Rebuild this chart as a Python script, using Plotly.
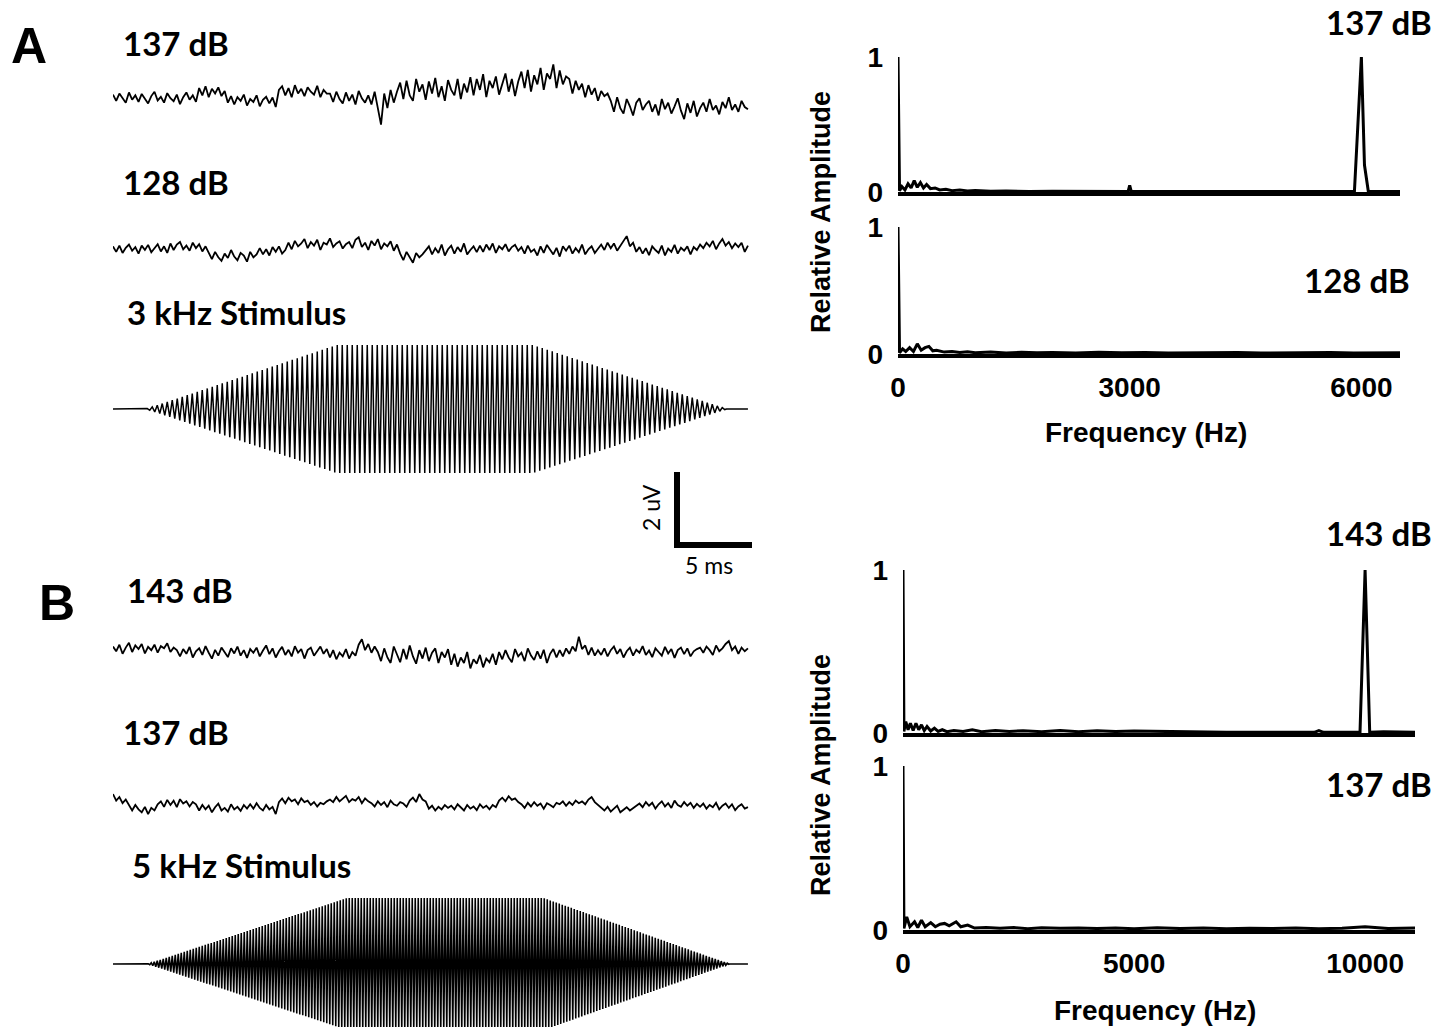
import numpy as np
import plotly.graph_objects as go

W, H = 1449, 1027

# ------------------------------------------------------------------ data
T_END_MS = 42.33          # duration of the displayed recordings (ms)

A137_UV = [0.12, -0.05, 0.15, 0.02, -0.10, 0.18, -0.02, 0.10, -0.08, 0.14, 0.00, -0.12, 0.08, 0.20, -0.04,
           0.06, -0.10, 0.16, 0.02, -0.06, 0.12, -0.14, 0.05, 0.18, -0.02, 0.10, -0.08,
           0.30, 0.10, 0.35, 0.05, 0.28, 0.15, 0.32, 0.08, 0.22,
           -0.10, 0.08, -0.15, 0.05, -0.05, 0.12, -0.18, 0.00, -0.08, 0.10, -0.20, -0.02, 0.06, -0.12, 0.04, -0.22,
           0.25, 0.35, 0.10, 0.30, 0.05, 0.38, 0.15, 0.28, 0.08, 0.32, 0.20, 0.12, 0.36, 0.05, 0.25, 0.15,
           0.15, -0.08, 0.20, 0.00, -0.12, 0.18, -0.05, 0.12, -0.15, 0.22, 0.02, -0.10, 0.10,
           -0.15, 0.20, -0.30, -0.70, 0.15, -0.25, 0.25, -0.10, 0.20,
           0.45, 0.00, 0.50, 0.10, -0.05, 0.55, 0.20, 0.40, -0.02, 0.48, 0.15, 0.58, 0.05, 0.35, -0.05,
           0.52, 0.25, 0.10, 0.55, 0.00, 0.42, 0.18,
           0.60, 0.10, 0.55, 0.25, 0.68, 0.05, 0.50, 0.30, 0.62, 0.12, 0.45, 0.70, 0.20, 0.55, 0.08, 0.48,
           0.75, 0.30, 0.80, 0.20, 0.65, 0.40, 0.85, 0.25, 0.70, 0.55, 0.95, 0.30, 0.78, 0.40, 0.62,
           0.55, 0.15, 0.50, 0.25, 0.42, 0.05, 0.38, 0.12, 0.30, -0.05, 0.22, 0.08, 0.15,
           -0.05, -0.35, 0.05, -0.25, -0.40, 0.00, -0.20, -0.45, -0.10, 0.02, -0.30, -0.15,
           -0.05, -0.35, -0.15, -0.45, 0.00, -0.28, -0.10, -0.40, -0.20, 0.02, -0.32, -0.55, -0.12, -0.38, -0.05,
           -0.48, -0.25, -0.10, -0.35, 0.00, -0.30, -0.18, -0.42, -0.08, -0.25, 0.05, -0.30, -0.15, -0.35, -0.05,
           -0.22, -0.28]

A128_UV = [0.10, -0.05, 0.12, -0.08, 0.06, 0.15, -0.02, 0.08, -0.10, 0.12, 0.00, 0.14, -0.06, 0.05, 0.16, -0.04, 0.10, -0.08,
           0.18, 0.00, 0.15, 0.22, 0.02, 0.12, -0.02, 0.20, 0.05, 0.16, -0.04, 0.10,
           -0.08, -0.25, -0.05, -0.20, -0.30, -0.10, -0.22, 0.00, -0.18, -0.28, -0.08, -0.15, -0.32, -0.05, -0.20, -0.12,
           0.05, -0.12, 0.02, -0.15, 0.08, -0.05, 0.10, -0.10, 0.00,
           0.20, 0.02, 0.25, 0.10, 0.18, 0.30, 0.05, 0.22, 0.12, 0.28, 0.00, 0.20, 0.15, 0.32, 0.08, 0.18, 0.24, 0.04, 0.16,
           0.22, 0.05, 0.28, 0.35, 0.08, 0.20, 0.00, 0.25, 0.12, 0.30, 0.02, 0.18, 0.10, 0.24, -0.02, 0.15,
           -0.10, -0.28, -0.05, -0.22, -0.35, -0.08, -0.20, -0.12, -0.02,
           0.10, -0.12, 0.05, -0.08, 0.15, -0.15, 0.02, 0.12, -0.10, 0.08, -0.05, 0.18, -0.12, 0.00, 0.10, -0.06,
           0.12, -0.05, 0.15, 0.00, 0.18, -0.08, 0.10, 0.02, 0.16, -0.04, 0.08, 0.14, -0.02,
           0.08, -0.10, 0.12, -0.05, 0.02, -0.15, 0.10, -0.08, 0.14, 0.00, -0.12, 0.06, -0.18, 0.10, -0.02,
           0.12, -0.10, 0.05, -0.06, 0.15, -0.12, 0.02, 0.10, -0.08, 0.04,
           0.15, 0.00, 0.20, 0.05, 0.18, -0.02, 0.12, 0.25, 0.38, 0.10, 0.20, -0.05,
           0.08, -0.10, 0.05, -0.14, 0.10, 0.00, -0.08, 0.12, -0.15, 0.04, -0.05, 0.14, -0.10, 0.06, -0.02, 0.10, -0.12, 0.08, 0.00,
           0.15, 0.05, 0.20, 0.10, 0.25, 0.02, 0.18, 0.30, 0.12, 0.22, 0.05, 0.18, 0.08, 0.20, -0.05, 0.12]

B143_UV = [0.15, 0.02, 0.20, -0.05, 0.12, 0.25, 0.00, 0.18, 0.08, 0.22, -0.04, 0.14, 0.05, 0.20, -0.02, 0.16, 0.10, 0.24, 0.00, 0.12, 0.05,
           -0.12, 0.08, -0.05, 0.14, -0.15, 0.02, 0.10, -0.08, 0.16, -0.02,
           -0.18, 0.06, -0.10, 0.12, 0.00, -0.14, 0.10, -0.04, 0.15, -0.10,
           0.05, -0.16, 0.08, -0.02, 0.12, -0.12, 0.04, 0.18, -0.06, 0.10,
           -0.15, 0.02, 0.14, -0.08, 0.06, -0.12, 0.16, -0.02, 0.08, -0.18,
           0.05, 0.12, -0.10, 0.02, 0.15, -0.05, 0.08,
           -0.15, 0.05, -0.20, -0.02, -0.12, 0.08, -0.18, 0.00, -0.10,
           0.20, 0.35, 0.05, 0.22, -0.02, 0.15, 0.00,
           -0.25, 0.10, -0.15, -0.30, 0.15, -0.05, -0.28, 0.08, -0.20, 0.18, -0.12, -0.32, 0.05, -0.18, 0.12,
           -0.25, -0.02, 0.10, -0.30, 0.00, -0.15, 0.08,
           -0.35, -0.05, -0.40, -0.15, -0.30, 0.00, -0.45, -0.20, -0.32, -0.08, -0.42, -0.18, -0.28, -0.05, -0.35,
           0.00, -0.20, 0.05, -0.15, -0.28, 0.08, -0.12, -0.02, -0.25, 0.10, -0.10, -0.22, 0.02, -0.18, 0.06,
           -0.30, -0.05, 0.08, -0.15,
           0.05, -0.12, 0.10, -0.05, 0.15, 0.02, 0.42, 0.08, 0.18, -0.08, 0.12, -0.10, 0.05,
           -0.08, 0.10, -0.12, 0.05, 0.15, -0.05, 0.08, -0.15, 0.02, 0.12, -0.10, 0.06, -0.02, 0.16, -0.08,
           0.04, -0.14, 0.10, 0.00, -0.10, 0.14, -0.04, 0.08, -0.16, 0.05, 0.12, -0.06, 0.10, -0.12, 0.02, 0.08,
           0.12, -0.02, 0.15, 0.05, -0.08, 0.18, 0.02, 0.10, 0.22, 0.30, 0.05, 0.15, -0.05, 0.12, 0.02, 0.10]

B137_UV = [0.30, 0.12, 0.22, 0.05, 0.15,
           -0.02, -0.15, 0.00, -0.12, -0.20, -0.05, -0.25, -0.08, -0.15, 0.02,
           0.10, -0.05, 0.14, 0.00, 0.12, -0.06, 0.16, 0.04, 0.10, -0.04, 0.08, 0.02,
           -0.15, 0.00, -0.12, -0.02, -0.20, -0.06, 0.04, -0.15, -0.08, -0.18, 0.02, -0.12, -0.05, -0.16, 0.00, -0.10,
           0.02, -0.10, 0.05, -0.08, -0.15, 0.00, -0.12, -0.05, -0.25,
           0.08, 0.18, 0.05, 0.20, 0.10, 0.15, 0.02, 0.18, 0.08, 0.12,
           0.00, 0.08, -0.04, 0.06, 0.02, 0.10,
           0.15, 0.08, 0.22, 0.10, 0.18, 0.25, 0.08, 0.16, 0.12, 0.22, 0.05, 0.18, 0.10,
           0.05, -0.04, 0.10, 0.00, 0.08, -0.06, 0.12, 0.02, -0.02, 0.08, 0.04, -0.05,
           0.12, 0.20, 0.08, 0.30, 0.15, 0.10,
           -0.10, -0.02, -0.15, -0.05, -0.12, 0.00, -0.08,
           -0.02, -0.12, 0.02, -0.08, -0.15, 0.00, -0.10, -0.04, -0.14, 0.02, -0.08, -0.02, -0.12, 0.00, -0.06,
           0.12, 0.20, 0.10, 0.24, 0.14, 0.18, 0.08,
           0.02, -0.08, 0.06, -0.04, 0.08, -0.02, 0.04, -0.10, 0.05, 0.00, -0.06, 0.06,
           0.02, 0.10, -0.02, 0.08, 0.00, 0.12, 0.05, 0.10, 0.02, 0.15, 0.22, 0.08, 0.00,
           -0.08, -0.15, -0.05, -0.18, -0.10, -0.02, -0.20, -0.12, -0.06, -0.15, -0.08, -0.02,
           0.04, -0.06, 0.08, -0.02, 0.06, -0.10, 0.02, 0.10, -0.04, 0.05, -0.08, 0.12, 0.00, -0.05, 0.08, -0.02, 0.06, -0.08, 0.03,
           -0.05, 0.04, -0.10, 0.00, -0.06, 0.06, -0.12, -0.02, 0.04, -0.08, 0.02, -0.14, -0.04, 0.02, -0.10, -0.06]

# stimulus tones: carrier frequency and trapezoid envelope corners (ms)
STIM_A_KHZ = 3
STIM_A_ENV_MS = [2.2, 14.9, 28.0, 40.9]
STIM_B_KHZ = 5
STIM_B_ENV_MS = [2.3, 15.6, 28.7, 41.1]
STIM_ENV_LEVEL = [0, 1, 1, 0]

SCALE_BAR_MS = 5
SCALE_BAR_UV = 2

# spectra (relative amplitude vs frequency in Hz)
FREQ_A137 = [0, 20, 50, 90, 130, 170, 210, 250, 290, 330, 370, 420, 480, 540, 620, 700, 800, 900, 1000, 1200,
             1400, 1700, 2000, 2500, 2980, 3000, 3020, 3500, 4000, 4500, 5000, 5500, 5910, 6000, 6040, 6090, 6300, 6500]
AMP_A137 = [1.0, 0.01, 0.04, 0.015, 0.06, 0.03, 0.085, 0.035, 0.07, 0.03, 0.055, 0.025, 0.03, 0.015, 0.02, 0.01, 0.015, 0.008, 0.012, 0.006,
            0.008, 0.004, 0.006, 0.004, 0.004, 0.05, 0.004, 0.003, 0.004, 0.003, 0.004, 0.003, 0.005, 1.0, 0.2, 0.003, 0.003, 0.003]

FREQ_A128 = [0, 20, 60, 100, 150, 200, 250, 300, 350, 400, 450, 500, 600, 700, 800, 900, 1000, 1200, 1400, 1600,
             1800, 2000, 2300, 2600, 2900, 3200, 3500, 3800, 4100, 4400, 4700, 5000, 5300, 5600, 5900, 6200, 6500]
AMP_A128 = [1.0, 0.01, 0.04, 0.02, 0.05, 0.02, 0.08, 0.03, 0.05, 0.06, 0.025, 0.03, 0.015, 0.02, 0.012, 0.018, 0.01, 0.015, 0.008, 0.014,
            0.01, 0.012, 0.008, 0.013, 0.009, 0.012, 0.008, 0.011, 0.009, 0.012, 0.008, 0.011, 0.009, 0.012, 0.008, 0.011, 0.01]

FREQ_B143 = [0, 20, 60, 110, 160, 220, 280, 340, 400, 460, 520, 600, 680, 760, 850, 950, 1100, 1300, 1500, 1700,
             2000, 2300, 2600, 3000, 3400, 3800, 4200, 4600, 5000, 5500, 6000, 6500, 7000, 8000, 8900, 9000, 9100,
             9890, 10000, 10100, 10400, 11080]
AMP_B143 = [1.0, 0.01, 0.07, 0.02, 0.06, 0.015, 0.06, 0.02, 0.05, 0.015, 0.04, 0.012, 0.03, 0.01, 0.02, 0.008, 0.015, 0.01, 0.02, 0.008,
            0.015, 0.01, 0.014, 0.008, 0.015, 0.008, 0.014, 0.009, 0.012, 0.01, 0.008, 0.004, 0.004, 0.004, 0.004, 0.015, 0.004,
            0.004, 1.0, 0.004, 0.008, 0.004]

FREQ_B137 = [0, 20, 80, 150, 250, 320, 400, 480, 600, 700, 800, 900, 1000, 1150, 1250, 1400, 1550, 1800, 2100, 2400,
             2700, 3000, 3400, 3800, 4200, 4600, 5000, 5500, 6000, 6500, 7000, 7500, 8000, 8500, 9000, 9500, 10000, 10500, 11080]
AMP_B137 = [1.0, 0.01, 0.08, 0.02, 0.05, 0.015, 0.06, 0.02, 0.045, 0.02, 0.035, 0.04, 0.025, 0.05, 0.02, 0.03, 0.012, 0.015, 0.01, 0.015,
            0.008, 0.014, 0.01, 0.012, 0.009, 0.012, 0.008, 0.013, 0.009, 0.012, 0.008, 0.011, 0.009, 0.012, 0.008, 0.011, 0.02, 0.009, 0.012]

FREQ_TICKS_A = [0, 3000, 6000]
FREQ_TICKS_B = [0, 5000, 10000]
FREQ_MAX_A = 6500
FREQ_MAX_B = 11080

# ------------------------------------------------------------------ layout helpers
def dx(a, b):
    return [a / W, b / W]


def dy(top, bottom):
    return [max(0.0, 1 - bottom / H), min(1.0, 1 - top / H)]


def px(x):
    return x / W


def py(y):
    return 1 - y / H


UV_PX = 36.5            # pixels per microvolt
T_DOM = (113, 752)
T_RANGE = [0, 42.6]

fig = go.Figure()
layout = {}
n_ax = [0]


def new_axes(xdom, ydom, xrange, yrange, xopts=None, yopts=None):
    n_ax[0] += 1
    k = n_ax[0]
    sx = "" if k == 1 else str(k)
    base = dict(showgrid=False, zeroline=False, showticklabels=False, ticks="", showline=False,
                fixedrange=True, automargin=False)
    xa = dict(base, domain=xdom, range=xrange, anchor="y" + sx)
    ya = dict(base, domain=ydom, range=yrange, anchor="x" + sx)
    if xopts:
        xa.update(xopts)
    if yopts:
        ya.update(yopts)
    layout["xaxis" + sx] = xa
    layout["yaxis" + sx] = ya
    return "x" + sx, "y" + sx


def trace_panel(values, top, bottom, center):
    xa, ya = new_axes(dx(*T_DOM), dy(top, bottom), T_RANGE,
                      [(center - bottom) / UV_PX, (center - top) / UV_PX])
    n = len(values)
    t = [T_END_MS * i / (n - 1) for i in range(n)]
    fig.add_trace(go.Scatter(x=t, y=values, mode="lines", xaxis=xa, yaxis=ya,
                             line=dict(color="black", width=1.8), hoverinfo="skip"))


def stim_panel(khz, env_ms, top, bottom, center, amp_px, width):
    yr = [(center - bottom) / amp_px, (center - top) / amp_px]
    xa, ya = new_axes(dx(*T_DOM), dy(top, bottom), T_RANGE, yr)
    half = 1.0 / (2 * khz)  # ms per half cycle
    t0, t3 = env_ms[0], env_ms[-1]
    tk = np.arange(t0 + half / 2, t3, half)
    env = np.interp(tk, env_ms, STIM_ENV_LEVEL)
    sign = np.where(np.arange(len(tk)) % 2 == 0, 1.0, -1.0)
    xs = [0.0, t0] + list(tk) + [t3, T_END_MS]
    ys = [0.0, 0.0] + list(sign * env) + [0.0, 0.0]
    fig.add_trace(go.Scatter(x=xs, y=ys, mode="lines", xaxis=xa, yaxis=ya,
                             line=dict(color="black", width=width), hoverinfo="skip"))


# ------------------------------------------------------------------ left column (time domain)
trace_panel(A137_UV, 55, 145, 99)
trace_panel(A128_UV, 210, 290, 250)
stim_panel(STIM_A_KHZ, STIM_A_ENV_MS, 335, 485, 409, 64, 1.5)
trace_panel(B143_UV, 612, 692, 652)
trace_panel(B137_UV, 768, 842, 805)
stim_panel(STIM_B_KHZ, STIM_B_ENV_MS, 890, 1027, 964, 66, 1.6)

# scale bar drawn through its own time / voltage axes
sb_top, sb_bot, sb_zero = 462, 556, 545
xa, ya = new_axes(dx(*T_DOM), dy(sb_top, sb_bot), T_RANGE,
                  [(sb_zero - sb_bot) / UV_PX, (sb_zero - sb_top) / UV_PX])
t_r = T_RANGE[1]
fig.add_trace(go.Scatter(x=[t_r - SCALE_BAR_MS, t_r - SCALE_BAR_MS, t_r],
                         y=[SCALE_BAR_UV, 0, 0], mode="lines", xaxis=xa, yaxis=ya,
                         line=dict(color="black", width=6), hoverinfo="skip"))

# ------------------------------------------------------------------ right column (spectra)
tickfont = dict(family="Liberation Sans, Arial, sans-serif", size=28, color="black", weight="bold")


def spec_panel(freq, amp, x0, x1, y1px, y0px, fmax, ticks=None):
    span = y0px - y1px
    pad = 0.012
    xopts = dict(showline=True, linecolor="black", linewidth=3.5)
    if ticks is not None:
        xopts.update(showticklabels=True, tickvals=ticks, ticktext=[str(v) for v in ticks],
                     tickfont=tickfont, ticklabelstandoff=6)
    yopts = dict(showticklabels=True, tickvals=[0, 1], ticktext=["0", "1"], tickfont=tickfont,
                 ticklabelstandoff=14)
    xa, ya = new_axes(dx(x0, x1), dy(y1px - pad * span, y0px), [0, fmax], [0, 1 + pad],
                      xopts, yopts)
    fig.add_trace(go.Scatter(x=freq, y=amp, mode="lines", xaxis=xa, yaxis=ya,
                             line=dict(color="black", width=3), hoverinfo="skip", cliponaxis=False))


spec_panel(FREQ_A137, AMP_A137, 898, 1400, 57, 192, FREQ_MAX_A)
spec_panel(FREQ_A128, AMP_A128, 898, 1400, 227, 354, FREQ_MAX_A, FREQ_TICKS_A)
spec_panel(FREQ_B143, AMP_B143, 903, 1415, 570, 733, FREQ_MAX_B)
spec_panel(FREQ_B137, AMP_B137, 903, 1415, 766, 930, FREQ_MAX_B, FREQ_TICKS_B)

# ------------------------------------------------------------------ text
LBL = dict(family="Lato, Open Sans, sans-serif", size=33, color="black")
AX = dict(family="Liberation Sans, Arial, sans-serif", size=28, color="black")
AXV = dict(family="Liberation Sans, Arial, sans-serif", size=27, color="black")
ann = []


def text(s, x, y, font, xanchor="left", angle=0):
    ann.append(dict(text=s, x=px(x), y=py(y), xref="paper", yref="paper", showarrow=False,
                    xanchor=xanchor, yanchor="middle", font=font, textangle=angle))


BIG = dict(family="Liberation Sans, Arial, sans-serif", size=50, color="black")
text("<b>A</b>", 9, 46, BIG)
text("<b>B</b>", 37, 603, BIG)
text("<b>137 dB</b>", 121, 43, LBL)
text("<b>128 dB</b>", 121, 182, LBL)
text("<b>3 kHz Stimulus</b>", 125, 312, LBL)
text("<b>143 dB</b>", 125, 590, LBL)
text("<b>137 dB</b>", 121, 732, LBL)
text("<b>5 kHz Stimulus</b>", 130, 865, LBL)

text("<b>137 dB</b>", 1379, 22, LBL, "center")
text("<b>128 dB</b>", 1357, 280, LBL, "center")
text("<b>143 dB</b>", 1379, 533, LBL, "center")
text("<b>137 dB</b>", 1379, 784, LBL, "center")

text("<b>Relative Amplitude</b>", 821, 212, AXV, "center", -90)
text("<b>Relative Amplitude</b>", 821, 775, AXV, "center", -90)
text("<b>Frequency (Hz)</b>", 1146, 433, AX, "center")
text("<b>Frequency (Hz)</b>", 1155, 1010, AX, "center")

SMALL = dict(family="Lato, Open Sans, sans-serif", size=23, color="black")
text("2 uV", 651, 508, SMALL, "center", -90)
text("5 ms", 709, 565, SMALL, "center")

layout.update(width=W, height=H, autosize=False,
              margin=dict(l=0, r=0, t=0, b=0, pad=0, autoexpand=False), showlegend=False,
              paper_bgcolor="white", plot_bgcolor="rgba(0,0,0,0)", annotations=ann)
fig.update_layout(**layout)

fig.write_html("out.html",
               config={"displayModeBar": False},
               post_script="document.body.style.margin='0px';document.body.style.overflow='hidden';")
